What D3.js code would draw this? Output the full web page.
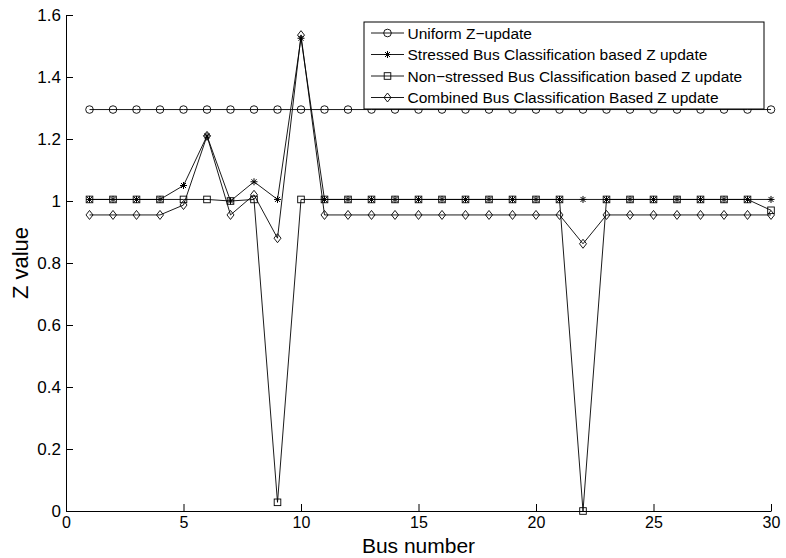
<!DOCTYPE html>
<html>
<head>
<meta charset="utf-8">
<script src="https://cdn.jsdelivr.net/npm/d3@7"></script>
<style>
  body { margin: 0; background: #fff; }
  text { font-family: "Liberation Sans", Arial, sans-serif; }
</style>
</head>
<body>
<script>
    // Data
    let bus = [1, 2, 3, 4, 5, 6, 7, 8, 9, 10, 11, 12, 13, 14, 15, 16, 17, 18, 19, 20,
               21, 22, 23, 24, 25, 26, 27, 28, 29, 30];
    let uniform = [1.295, 1.295, 1.295, 1.295, 1.295, 1.295, 1.295, 1.295, 1.295, 1.295,
                   1.295, 1.295, 1.295, 1.295, 1.295, 1.295, 1.295, 1.295, 1.295, 1.295,
                   1.295, 1.295, 1.295, 1.295, 1.295, 1.295, 1.295, 1.295, 1.295, 1.295];
    let stressed = [1.005, 1.005, 1.005, 1.005, 1.05, 1.21, 1.0, 1.062, 1.005, 1.525,
                    1.005, 1.005, 1.005, 1.005, 1.005, 1.005, 1.005, 1.005, 1.005, 1.005,
                    1.005, 1.005, 1.005, 1.005, 1.005, 1.005, 1.005, 1.005, 1.005, 1.005];
    let nonStressed = [1.005, 1.005, 1.005, 1.005, 1.005, 1.005, 1.0, 1.005, 0.028, 1.005,
                       1.005, 1.005, 1.005, 1.005, 1.005, 1.005, 1.005, 1.005, 1.005, 1.005,
                       1.005, 0.0, 1.005, 1.005, 1.005, 1.005, 1.005, 1.005, 1.005, 0.97];
    let combined = [0.955, 0.955, 0.955, 0.955, 0.987, 1.21, 0.955, 1.02, 0.88, 1.535,
                    0.955, 0.955, 0.955, 0.955, 0.955, 0.955, 0.955, 0.955, 0.955, 0.955,
                    0.955, 0.862, 0.955, 0.955, 0.955, 0.955, 0.955, 0.955, 0.955, 0.955];
    let seriesNames = ["Uniform Z\u2212update",
                       "Stressed Bus Classification based Z update",
                       "Non\u2212stressed Bus Classification based Z update",
                       "Combined Bus Classification Based Z update"];
    let markers = ["circle", "star", "square", "diamond"];
    let xTicks = [0, 5, 10, 15, 20, 25, 30];
    let yTicks = [0, 0.2, 0.4, 0.6, 0.8, 1, 1.2, 1.4, 1.6];

    let series = [uniform, stressed, nonStressed, combined];

    // Set up SVG
    let margin = { top: 15, right: 15, bottom: 47, left: 66 };
    let width = 786 - margin.left - margin.right;
    let height = 558 - margin.top - margin.bottom;

    let svg = d3.select("body")
        .append("svg")
        .attr("width", 786)
        .attr("height", 558)
        .append("g")
        .attr("transform", `translate(${margin.left}, ${margin.top})`);

    let x = d3.scaleLinear().domain([0, 30]).range([0, width]);
    let y = d3.scaleLinear().domain([0, 1.6]).range([height, 0]);

    // Axes
    let xAxis = svg.append("g")
        .attr("transform", `translate(0, ${height})`)
        .call(d3.axisBottom(x).tickValues(xTicks).tickFormat(d3.format("d"))
            .tickSizeInner(-7).tickSizeOuter(0).tickPadding(6));
    let yAxis = svg.append("g")
        .call(d3.axisLeft(y).tickValues(yTicks).tickFormat(d => d3.format("")(+d.toFixed(1)))
            .tickSizeInner(-7).tickSizeOuter(0).tickPadding(5));

    [xAxis, yAxis].forEach(a => {
        a.selectAll("text").attr("fill", "#000")
            .style("font-family", "'Liberation Sans', Arial, sans-serif");
        a.selectAll("line").attr("stroke", "#000");
        a.select(".domain").attr("stroke", "#000");
    });
    xAxis.selectAll("text").attr("font-size", 16);
    yAxis.selectAll("text").attr("font-size", 17);

    // Axis labels
    svg.append("text")
        .attr("x", width / 2)
        .attr("y", height + 42)
        .attr("text-anchor", "middle")
        .attr("font-size", 21)
        .text("Bus number");

    svg.append("text")
        .attr("transform", `translate(${-38}, ${height / 2}) rotate(-90)`)
        .attr("text-anchor", "middle")
        .attr("font-size", 22)
        .text("Z value");

    // Marker drawing
    function drawMarker(g, type, cx, cy) {
        if (type === "circle") {
            g.append("circle").attr("cx", cx).attr("cy", cy).attr("r", 3.8)
                .attr("fill", "none").attr("stroke", "#000").attr("stroke-width", 0.9);
        } else if (type === "square") {
            g.append("rect").attr("x", cx - 3.3).attr("y", cy - 3.3)
                .attr("width", 6.6).attr("height", 6.6)
                .attr("fill", "none").attr("stroke", "#000").attr("stroke-width", 0.9);
        } else if (type === "diamond") {
            g.append("path")
                .attr("d", `M${cx},${cy - 4.5}L${cx + 3.5},${cy}L${cx},${cy + 4.5}L${cx - 3.5},${cy}Z`)
                .attr("fill", "none").attr("stroke", "#000").attr("stroke-width", 0.9);
        } else if (type === "star") {
            let r = 3.5, d = 2.5;
            g.append("path")
                .attr("d", `M${cx - r},${cy}L${cx + r},${cy}M${cx},${cy - r}L${cx},${cy + r}` +
                    `M${cx - d},${cy - d}L${cx + d},${cy + d}M${cx - d},${cy + d}L${cx + d},${cy - d}`)
                .attr("fill", "none").attr("stroke", "#000").attr("stroke-width", 1);
        }
    }

    // Lines and markers
    let line = d3.line()
        .x((d, i) => x(bus[i]))
        .y(d => y(d));

    series.forEach((s, k) => {
        let g = svg.append("g");
        g.append("path")
            .attr("d", line(s))
            .attr("fill", "none")
            .attr("stroke", "#000")
            .attr("stroke-width", 0.9);
        s.forEach((v, i) => drawMarker(g, markers[k], x(bus[i]), y(v)));
    });

    // Legend
    let legend = svg.append("g").attr("transform", `translate(${298}, 7)`);
    legend.append("rect")
        .attr("x", 0).attr("y", 0)
        .attr("width", 400).attr("height", 87)
        .attr("fill", "#fff").attr("stroke", "#000").attr("stroke-width", 1);

    seriesNames.forEach((name, k) => {
        let ly = 11 + k * 21.5;
        let g = legend.append("g");
        g.append("line").attr("x1", 7).attr("x2", 40).attr("y1", ly).attr("y2", ly)
            .attr("stroke", "#000").attr("stroke-width", 0.9);
        drawMarker(g, markers[k], 23.5, ly);
        g.append("text")
            .attr("x", 43.5).attr("y", ly + 5.5)
            .attr("font-size", 15.5)
            .text(name);
    });
</script>
</body>
</html>
